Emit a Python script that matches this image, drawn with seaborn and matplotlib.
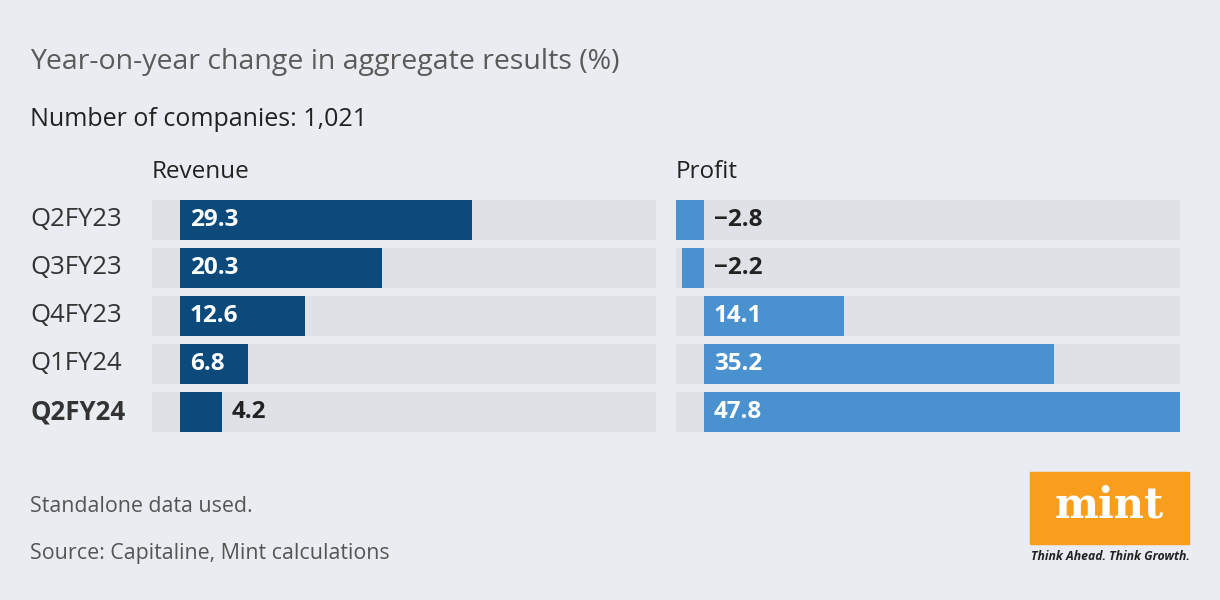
import matplotlib.pyplot as plt
import seaborn as sns
from matplotlib.patches import Rectangle
from matplotlib.transforms import blended_transform_factory

quarters = ['Q2FY23', 'Q3FY23', 'Q4FY23', 'Q1FY24', 'Q2FY24']
revenue = [29.3, 20.3, 12.6, 6.8, 4.2]
profit = [-2.8, -2.2, 14.1, 35.2, 47.8]

bg = '#e9ecf0'
track = '#dee1e6'
dark_blue = '#0b4a7b'
light_blue = '#4a91cf'

sns.set_theme(style='white')
plt.rcParams['font.family'] = ['Open Sans', 'DejaVu Sans']

fig = plt.figure(figsize=(12.2, 6), dpi=100, facecolor=bg)
xmin, xmax = -2.8, 47.8
bar_h = 40 / 48

def panel(left, values, color, name):
    ax = fig.add_axes([left / 1220, 1 - 432 / 600, 504 / 1220, 232 / 600])
    # grey track behind every row
    ax.barh(range(len(values)), [xmax - xmin] * len(values), left=xmin,
            height=bar_h, color=track, linewidth=0, zorder=0)
    sns.barplot(x=values, y=quarters, orient='h', color=color, width=bar_h,
                saturation=1, linewidth=0, ax=ax, zorder=2)
    ax.set_xlim(xmin, xmax)
    ax.set_ylim(len(values) - 1 + bar_h / 2, -bar_h / 2)
    ax.axis('off')
    for i, v in enumerate(values):
        txt = f'{v:.1f}'.replace('-', '\u2212')
        if v > 6:
            ax.text(1.0, i, txt, color='white', fontsize=17.5, fontweight='bold',
                    va='center', ha='left', zorder=3)
        else:
            ax.text(max(v, 0) + 1.0, i, txt, color='#222222', fontsize=17.5,
                    fontweight='bold', va='center', ha='left', zorder=3)
    ax.text(0, 1 + 28 / 232, name, transform=ax.transAxes, fontsize=17.5,
            color='#222222', va='center', ha='left')
    return ax

ax1 = panel(152, revenue, dark_blue, 'Revenue')
ax2 = panel(676, profit, light_blue, 'Profit')

# category labels on the left
trans = blended_transform_factory(fig.transFigure, ax1.transData)
for i, q in enumerate(quarters):
    ax1.text(30 / 1220, i, q, transform=trans, fontsize=18.5, color='#333333',
             va='center', ha='left',
             fontweight='bold' if i == len(quarters) - 1 else 'normal')

fig.text(30 / 1220, 1 - 62 / 600, 'Year-on-year change in aggregate results (%)',
         fontsize=20.5, color='#5a5a5a', va='center', ha='left')
fig.text(30 / 1220, 1 - 119 / 600, 'Number of companies: 1,021',
         fontsize=18, color='#222222', va='center', ha='left')
fig.text(30 / 1220, 1 - 507 / 600, 'Standalone data used.',
         fontsize=15.4, color='#555555', va='center', ha='left')
fig.text(30 / 1220, 1 - 554 / 600, 'Source: Capitaline, Mint calculations',
         fontsize=15.4, color='#555555', va='center', ha='left')

# mint logo
fig.patches.append(Rectangle((1030 / 1220, 1 - 544 / 600), 159 / 1220, 72 / 600,
                             transform=fig.transFigure, color='#f99d1c', zorder=1))
fig.text(1109 / 1220, 1 - 505 / 600, 'mint', family='DejaVu Serif', fontweight='bold',
         fontsize=30, color='white', ha='center', va='center')
fig.text(1110 / 1220, 1 - 556 / 600, 'Think Ahead. Think Growth.', fontsize=8.8,
         style='italic', fontweight='bold', color='#222222', ha='center', va='center')

fig.savefig('out.png', facecolor=bg)
